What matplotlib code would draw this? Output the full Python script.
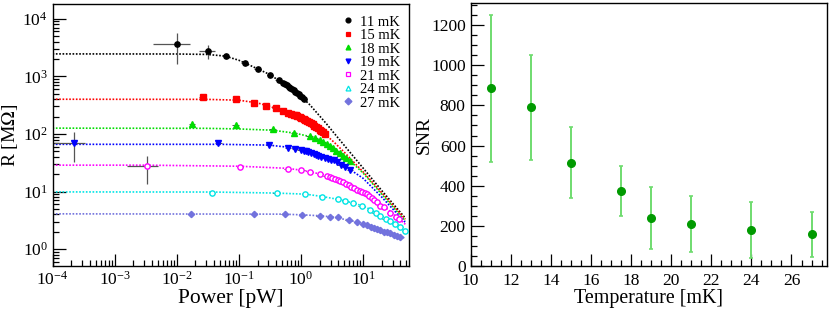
import matplotlib
matplotlib.use("Agg")
import matplotlib.pyplot as plt
import numpy as np
from matplotlib.lines import Line2D
from matplotlib.ticker import LogLocator, MultipleLocator, NullFormatter

plt.rcParams["font.family"] = ["Liberation Serif", "DejaVu Serif"]
plt.rcParams["mathtext.fontset"] = "stix"

# ---- left panel: R vs power, per temperature ----
temps = ["11 mK", "15 mK", "18 mK", "19 mK", "21 mK", "24 mK", "27 mK"]

p_11 = [0.0102, 0.032, 0.061, 0.124, 0.2, 0.32, 0.437, 0.506, 0.55, 0.594, 0.64, 0.673,
        0.72, 0.76, 0.81, 0.863, 0.92, 0.975, 1.05, 1.13]
r_11 = [3610, 2740, 2220, 1680, 1340, 1070, 857, 770, 735, 702, 665, 631,
        600, 576, 545, 518, 488, 460, 430, 398]
p_15 = [0.026, 0.091, 0.177, 0.276, 0.39, 0.513, 0.63, 0.7, 0.76, 0.82, 0.88, 0.95, 1.02,
        1.1, 1.18, 1.26, 1.35, 1.45, 1.55, 1.65, 1.76, 1.88, 2.0, 2.12, 2.25, 2.4]
r_15 = [442, 398, 344, 309, 278, 254, 234, 224, 217, 210, 204, 197, 189,
        181, 174, 167, 160, 153, 146, 139, 132, 125, 119, 113, 107, 100]
p_18 = [0.0176, 0.0885, 0.349, 0.78, 1.38, 1.7, 2.0, 2.3, 2.6, 2.96, 3.3, 3.7, 4.3, 4.8, 5.4, 6.2]
r_18 = [150, 144, 121, 103, 90.6, 85, 79, 73, 67, 61, 56, 51, 46.8, 42, 38, 33.6]
p_19 = [0.00022, 0.047, 0.309, 0.624, 0.81, 1.0, 1.1, 1.2, 1.3, 1.45, 1.6, 1.75, 1.9,
        2.1, 2.4, 2.7, 3.0, 3.35, 3.8, 4.4, 5.2, 6.2]
r_19 = [69, 68.7, 65.2, 58, 55.6, 53, 51.4, 50, 48.5, 46.8, 45, 43.5, 42,
        40.5, 38.5, 37, 35.8, 34.6, 32, 29, 26.5, 23.5]
p_21 = [0.0033, 0.105, 0.61, 1.02, 1.4, 2.03, 2.62, 2.9, 3.2, 3.5, 3.9, 4.3, 4.8, 5.3, 5.9,
        6.5, 7.2, 8.0, 8.8, 9.7, 10.6, 11.6, 12.7, 13.9, 15.2, 16.7, 18.9, 21.4, 27.4, 34.3, 38]
r_21 = [27.6, 26.8, 25.1, 23.2, 21.8, 20.2, 18.7, 18.1, 17.4, 16.8, 16.0, 15.2, 14.4, 13.6, 12.9,
        12.2, 11.5, 10.8, 10.2, 9.8, 9.4, 9.0, 8.3, 7.7, 7.1, 6.5, 5.7, 5.3, 4.3, 3.65, 3.3]
p_24 = [0.037, 0.41, 1.17, 2.18, 4.0, 5.2, 7.0, 9.6, 13, 16, 19, 23, 27.4, 33, 40, 48]
r_24 = [9.4, 9.35, 9.0, 8.1, 7.4, 6.9, 6.4, 5.65, 4.8, 4.3, 3.8, 3.4, 3.1, 2.75, 2.45, 2.05]
p_27 = [0.0171, 0.177, 0.545, 1.05, 2.0, 2.96, 4.0, 5.85, 8.0, 10, 11.6, 13.5, 15, 16.7,
        19, 21.5, 24, 27.4, 31, 35, 40]
r_27 = [4.15, 4.05, 4.1, 3.96, 3.8, 3.65, 3.56, 3.2, 2.95, 2.75, 2.6, 2.45, 2.35, 2.24,
        2.12, 2.02, 1.95, 1.88, 1.78, 1.68, 1.6]

# large error bars on the lowest-power points (P, R, dP, dR)
big_err_p = [0.0102, 0.032, 0.00022, 0.0033]
big_err_r = [3610, 2740, 69, 27.6]
big_err_dp = [0.006, 0.009, 0.000115, 0.0017]
big_err_dr = [2000, 750, 37, 14.3]
REL_XERR = 0.12
REL_YERR = 0.06

# fit curves
fit_p_11 = [1e-4, 0.01, 0.03, 0.06, 0.1, 0.2, 0.3, 0.5, 0.7, 1, 1.4, 2, 2.6, 3.5, 5, 10, 20, 48]
fit_r_11 = [2450, 2440, 2400, 2250, 1900, 1350, 1100, 780, 610, 450, 318, 205, 148, 100, 63, 25.6, 10.4, 3.45]
fit_p_15 = [1e-4, 0.03, 0.1, 0.2, 0.3, 0.5, 0.7, 1, 1.5, 2, 2.5, 3.5, 5, 10, 20, 48]
fit_r_15 = [400, 398, 385, 345, 305, 255, 225, 190, 150, 120, 97, 70, 48, 22, 9.5, 3.3]
fit_p_18 = [1e-4, 0.03, 0.1, 0.35, 0.8, 1.4, 2, 3, 4.3, 6.2, 10, 20, 48]
fit_r_18 = [126, 125, 122, 116, 103, 90, 78, 61, 47, 34, 21, 9, 3.1]
fit_p_19 = [1e-4, 0.05, 0.3, 0.6, 1, 1.6, 3.3, 6.2, 10, 20, 48]
fit_r_19 = [66, 66, 64, 59, 53, 45, 35, 24, 17, 8, 2.9]
fit_p_21 = [1e-4, 0.003, 0.1, 0.6, 1, 2, 2.6, 4.3, 7, 11.6, 16.7, 27, 48]
fit_r_21 = [28.7, 28.7, 27.5, 25.3, 23.5, 20.3, 19, 15.5, 12, 9, 6.8, 4.6, 2.7]
fit_p_24 = [1e-4, 0.04, 0.4, 1.2, 2.2, 4, 7, 10, 13, 19, 27, 48]
fit_r_24 = [9.85, 9.8, 9.4, 9.0, 8.2, 7.3, 6.3, 5.6, 4.9, 3.9, 3.1, 2.0]
fit_p_27 = [1e-4, 0.5, 1, 2, 3, 5.8, 8, 11.6, 16.7, 27, 48]
fit_r_27 = [4.1, 4.05, 3.95, 3.8, 3.65, 3.2, 2.95, 2.6, 2.25, 1.9, 1.55]

# ---- right panel: SNR vs temperature ----
snr_t = [11, 13, 15, 17.5, 19, 21, 24, 27]
snr = [887, 790, 513, 373, 237, 210, 178, 157]
snr_hi = [1250, 1053, 692, 500, 392, 350, 317, 270]
snr_lo = [520, 528, 337, 247, 83, 70, 40, 45]


def style_axes(ax):
    for s in ax.spines.values():
        s.set_linewidth(1.0)
    ax.tick_params(which="both", direction="in", top=False, right=False, labelsize=12.5)
    ax.tick_params(which="major", length=9, width=0.9)
    ax.tick_params(which="minor", length=4.5, width=0.9)


fig = plt.figure(figsize=(8.3, 3.15), dpi=100)
ax1 = fig.add_axes([0.0633, 0.1556, 0.4295, 0.8317])
ax2 = fig.add_axes([0.567, 0.1565, 0.4289, 0.833])

# (P, R, fit P, fit R, colour, data marker, legend marker, filled)
series = [
    (p_11, r_11, fit_p_11, fit_r_11, "black", "o", "o", True),
    (p_15, r_15, fit_p_15, fit_r_15, "#ff0000", "s", "s", True),
    (p_18, r_18, fit_p_18, fit_r_18, "#00dd00", "^", "^", True),
    (p_19, r_19, fit_p_19, fit_r_19, "#0000ff", "v", "v", True),
    (p_21, r_21, fit_p_21, fit_r_21, "#ff00ff", "o", "s", False),
    (p_24, r_24, fit_p_24, fit_r_24, "#00e5e5", "o", "^", False),
    (p_27, r_27, fit_p_27, fit_r_27, "#7272dd", "D", "D", True),
]

handles = []
for (p, r, fp, fr, col, mk, lmk, filled), lab in zip(series, temps):
    p = np.array(p); r = np.array(r)
    ax1.plot(fp, fr, ls=(0, (1, 1)), lw=1.2, color=col, zorder=2)
    ax1.errorbar(p, r, xerr=p * REL_XERR, yerr=r * REL_YERR, fmt="none",
                 ecolor="#555555", elinewidth=0.7, capsize=0, zorder=3)
    ms = 3.8 if mk != "D" else 3.2
    ax1.plot(p, r, ls="none", marker=mk, ms=ms, mfc=col if filled else "white",
             mec=col, mew=1.0, zorder=4)
    handles.append(Line2D([], [], ls="none", marker=lmk, ms=3.5,
                          mfc=col if filled else "white", mec=col, mew=0.9))

ax1.errorbar(big_err_p, big_err_r, xerr=big_err_dp, yerr=big_err_dr, fmt="none",
             ecolor="#555555", elinewidth=0.9, capsize=0, zorder=3)

ax1.set_xscale("log")
ax1.set_yscale("log")
ax1.set_xlim(1e-4, 55)
ax1.set_ylim(0.51, 1.8e4)
ax1.xaxis.set_major_locator(LogLocator(base=10, numticks=20))
ax1.xaxis.set_minor_locator(LogLocator(base=10, subs=np.arange(2, 10), numticks=20))
ax1.yaxis.set_major_locator(LogLocator(base=10, numticks=20))
ax1.yaxis.set_minor_locator(LogLocator(base=10, subs=np.arange(2, 10), numticks=20))
ax1.xaxis.set_minor_formatter(NullFormatter())
ax1.yaxis.set_minor_formatter(NullFormatter())
style_axes(ax1)
ax1.set_xlabel("Power [pW]", fontsize=15.5, labelpad=0)
ax1.set_ylabel("R [M$\\Omega$]", fontsize=14)
ax1.yaxis.set_label_coords(-0.092, 0.5)
ax1.legend(handles, temps, loc="upper right", frameon=False, fontsize=10.5,
           handlelength=0.6, handletextpad=0.5, labelspacing=0.02,
           borderaxespad=0.2, bbox_to_anchor=(1.0, 0.99))

# right panel
lo = np.array(snr) - np.array(snr_lo)
hi = np.array(snr_hi) - np.array(snr)
ax2.errorbar(snr_t, snr, yerr=[lo, hi], fmt="none", ecolor="#6fdc6f", elinewidth=1.4,
             capsize=1.5, capthick=1.2, zorder=2)
ax2.plot(snr_t, snr, ls="none", marker="o", ms=5.5, mfc="#009a00", mec="#009a00", zorder=3)
ax2.set_xlim(10, 27.75)
ax2.set_ylim(0, 1310)
ax2.xaxis.set_major_locator(MultipleLocator(2))
ax2.xaxis.set_minor_locator(MultipleLocator(0.5))
ax2.yaxis.set_major_locator(MultipleLocator(200))
ax2.yaxis.set_minor_locator(MultipleLocator(50))
style_axes(ax2)
ax2.tick_params(axis="x", pad=5)
ax2.set_xlabel("Temperature [mK]", fontsize=14.4, labelpad=0)
ax2.set_ylabel("SNR", fontsize=14)
ax2.yaxis.set_label_coords(-0.105, 0.5)

fig.savefig("out.png", dpi=100)
